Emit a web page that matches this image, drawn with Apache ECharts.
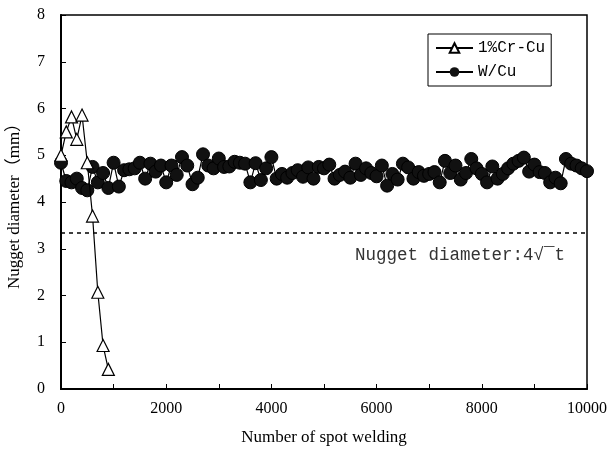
<!DOCTYPE html>
<html>
<head>
<meta charset="utf-8">
<script src="https://cdn.jsdelivr.net/npm/echarts@6/dist/echarts.min.js"></script>
<style>
    html, body { margin: 0; padding: 0; background: #fff; }
    #chart { width: 612px; height: 457px; }
</style>
</head>
<body>
<div id="chart"></div>
<script>
// 1%Cr-Cu electrode
let crCuX = [0, 100, 200, 300, 400, 500, 600, 700, 800, 900]
let crCuY = [5.0, 5.5, 5.82, 5.34, 5.86, 4.84, 3.7, 2.07, 0.93, 0.42]

// W/Cu electrode, one point every 100 welds
let wCuY = [
    4.84, 4.45, 4.42, 4.5, 4.3, 4.25, 4.75, 4.42, 4.62, 4.3,
    4.84, 4.33, 4.68, 4.7, 4.72, 4.84, 4.5, 4.82, 4.65, 4.78,
    4.42, 4.78, 4.58, 4.96, 4.78, 4.38, 4.52, 5.02, 4.78, 4.72,
    4.93, 4.75, 4.76, 4.86, 4.84, 4.82, 4.42, 4.83, 4.47, 4.72,
    4.96, 4.5, 4.6, 4.52, 4.62, 4.68, 4.54, 4.74, 4.5, 4.75,
    4.72, 4.8, 4.5, 4.58, 4.65, 4.52, 4.82, 4.58, 4.72, 4.62,
    4.55, 4.78, 4.35, 4.6, 4.48, 4.82, 4.74, 4.5, 4.64, 4.56,
    4.6, 4.64, 4.42, 4.88, 4.62, 4.78, 4.48, 4.62, 4.92, 4.72,
    4.6, 4.42, 4.76, 4.5, 4.6, 4.72, 4.82, 4.88, 4.95, 4.65,
    4.8, 4.64, 4.62, 4.42, 4.52, 4.4, 4.92, 4.82, 4.78, 4.72,
    4.66
]
let wCuStep = 100

let limitY = 3.35 // 4√t
let xTicks = [0, 10000, 2000]
let yTicks = [0, 8, 1]

let crCuData = crCuX.map((x, i) => [x, crCuY[i]])
let wCuData = wCuY.map((y, i) => [i * wCuStep, y])

let serif = 'Liberation Serif'
let mono = 'Liberation Mono'
let option = {
    animation: false,
    backgroundColor: '#fff',
    grid: {
        left: 61,
        right: 25,
        top: 15,
        bottom: 68,
        containLabel: false,
        outerBoundsMode: 'none',
        show: true,
        borderColor: '#000',
        borderWidth: 1.5
    },
    legend: {
        orient: 'vertical',
        left: 428,
        top: 34,
        padding: [6, 6, 6, 7],
        itemGap: 8,
        itemWidth: 37,
        itemHeight: 12,
        borderColor: '#000',
        borderWidth: 1,
        borderRadius: 0,
        textStyle: { color: '#000', fontSize: 16, fontFamily: mono },
        data: ['1%Cr-Cu', 'W/Cu']
    },
    xAxis: {
        type: 'value',
        min: xTicks[0],
        max: xTicks[1],
        interval: xTicks[2],
        name: 'Number of spot welding',
        nameLocation: 'middle',
        nameGap: 40,
        nameTextStyle: { color: '#000', fontSize: 17, fontFamily: serif },
        axisLine: { lineStyle: { color: '#000', width: 2 } },
        axisTick: { inside: true, length: 5, lineStyle: { color: '#000' } },
        minorTick: { show: true, splitNumber: 2, length: 5, lineStyle: { color: '#000' } },
        splitLine: { show: false },
        axisLabel: {
            color: '#000', fontSize: 16, fontFamily: serif, margin: 12,
            formatter: v => String(v)
        }
    },
    yAxis: {
        type: 'value',
        min: yTicks[0],
        max: yTicks[1],
        interval: yTicks[2],
        name: 'Nugget diameter（mm）',
        nameLocation: 'middle',
        nameGap: 38,
        nameTextStyle: { color: '#000', fontSize: 17, fontFamily: serif + ', Noto Sans CJK SC' },
        axisLine: { show: true, lineStyle: { color: '#000', width: 2 } },
        axisTick: { show: true, inside: true, length: 5, lineStyle: { color: '#000' } },
        splitLine: { show: false },
        axisLabel: { color: '#000', fontSize: 16, fontFamily: serif, margin: 16 }
    },
    series: [
        {
            name: '1%Cr-Cu',
            type: 'line',
            data: crCuData,
            symbol: 'triangle',
            symbolSize: 12,
            z: 3,
            lineStyle: { color: '#000', width: 1.2 },
            itemStyle: { color: '#fff', borderColor: '#000', borderWidth: 1.2 },
            markLine: {
                silent: true,
                symbol: 'none',
                lineStyle: { color: '#000', type: [4, 4], width: 1.5 },
                label: {
                    show: true,
                    position: 'insideEndBottom',
                    distance: [22, 14],
                    color: '#333',
                    fontSize: 17.5,
                    fontFamily: mono,
                    formatter: 'Nugget diameter:4√‾t'
                },
                data: [{ yAxis: limitY }]
            }
        },
        {
            name: 'W/Cu',
            type: 'line',
            data: wCuData,
            symbol: 'circle',
            symbolSize: 13,
            z: 2,
            lineStyle: { color: '#000', width: 1.2 },
            itemStyle: { color: '#111', borderColor: '#000' }
        }
    ]
}

var myChart = echarts.init(document.getElementById('chart'))
myChart.setOption(option)
</script>
</body>
</html>
